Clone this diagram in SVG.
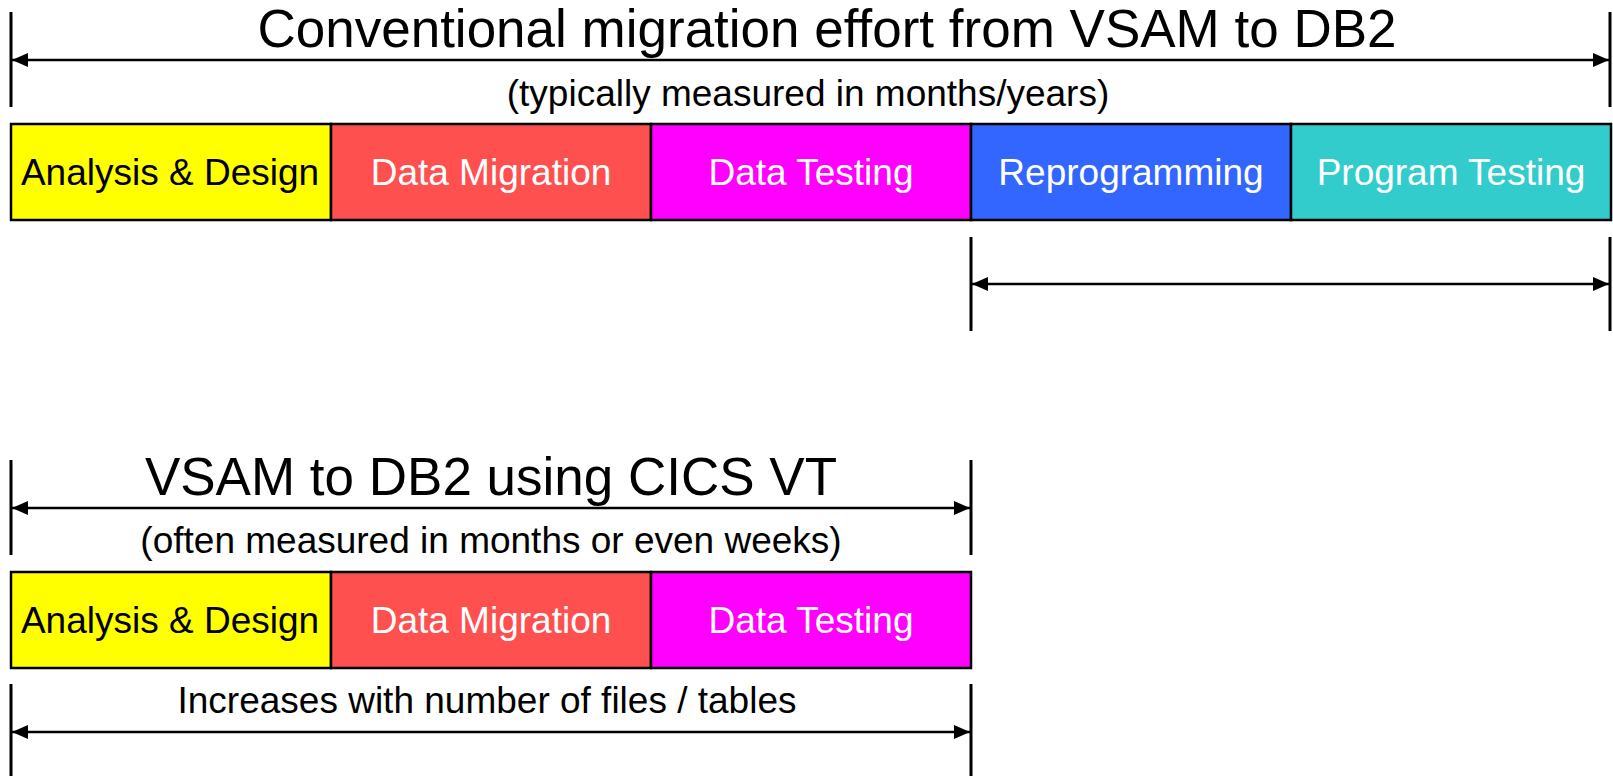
<svg xmlns="http://www.w3.org/2000/svg" width="1613" height="776" viewBox="0 0 1613 776">
<style>
text{font-family:"Liberation Sans",Arial,sans-serif;text-anchor:middle}
.t{font-size:53px;fill:#000}
.s{font-size:37px;fill:#000}
.lb{font-size:37px;fill:#fff}
.lk{font-size:37px;fill:#000}
.box{stroke:#000;stroke-width:2.5}
.tick{stroke:#000;stroke-width:3}
.arr{stroke:#000;stroke-width:2.5;fill:none;marker-start:url(#ah);marker-end:url(#ah)}
</style>
<defs>
<marker id="ah" viewBox="0 0 16 14" refX="16" refY="7" markerWidth="16" markerHeight="14" markerUnits="userSpaceOnUse" orient="auto-start-reverse">
<path d="M0,0 L16,7 L0,14 Z" fill="#000"/>
</marker>
</defs>
<rect width="1613" height="776" fill="#fff"/>
<g id="connectors">
<line class="tick" x1="11" y1="12" x2="11" y2="107"/>
<line class="tick" x1="1610" y1="12" x2="1610" y2="107"/>
<line class="arr" x1="12" y1="60" x2="1609" y2="60"/>
<line class="tick" x1="971" y1="237" x2="971" y2="331"/>
<line class="tick" x1="1610" y1="237" x2="1610" y2="331"/>
<line class="arr" x1="972" y1="284" x2="1609" y2="284"/>
<line class="tick" x1="11" y1="460" x2="11" y2="555"/>
<line class="tick" x1="971" y1="460" x2="971" y2="555"/>
<line class="arr" x1="12" y1="508" x2="970" y2="508"/>
<line class="tick" x1="11" y1="684" x2="11" y2="776"/>
<line class="tick" x1="971" y1="684" x2="971" y2="776"/>
<line class="arr" x1="12" y1="732" x2="970" y2="732"/>
</g>
<g id="labels">
<text class="t" x="827" y="47">Conventional migration effort from VSAM to DB2</text>
<text class="s" x="808" y="106">(typically measured in months/years)</text>
<text class="t" x="491" y="495">VSAM to DB2 using CICS VT</text>
<text class="s" x="491" y="553">(often measured in months or even weeks)</text>
<text class="s" x="487" y="713">Increases with number of files / tables</text>
</g>
<g id="top-analysis"><rect class="box" x="11" y="124" width="320" height="96" fill="#FFFF00"/><text class="lk" x="170" y="185">Analysis &amp; Design</text></g>
<g id="top-migration"><rect class="box" x="331" y="124" width="320" height="96" fill="#FF5050"/><text class="lb" x="491" y="185">Data Migration</text></g>
<g id="top-datatesting"><rect class="box" x="651" y="124" width="320" height="96" fill="#FF00FF"/><text class="lb" x="811" y="185">Data Testing</text></g>
<g id="top-reprogramming"><rect class="box" x="971" y="124" width="320" height="96" fill="#3366FF"/><text class="lb" x="1131" y="185">Reprogramming</text></g>
<g id="top-programtesting"><rect class="box" x="1291" y="124" width="320" height="96" fill="#33CCCC"/><text class="lb" x="1451" y="185">Program Testing</text></g>
<g id="bot-analysis"><rect class="box" x="11" y="572" width="320" height="96" fill="#FFFF00"/><text class="lk" x="170" y="633">Analysis &amp; Design</text></g>
<g id="bot-migration"><rect class="box" x="331" y="572" width="320" height="96" fill="#FF5050"/><text class="lb" x="491" y="633">Data Migration</text></g>
<g id="bot-datatesting"><rect class="box" x="651" y="572" width="320" height="96" fill="#FF00FF"/><text class="lb" x="811" y="633">Data Testing</text></g>
</svg>
